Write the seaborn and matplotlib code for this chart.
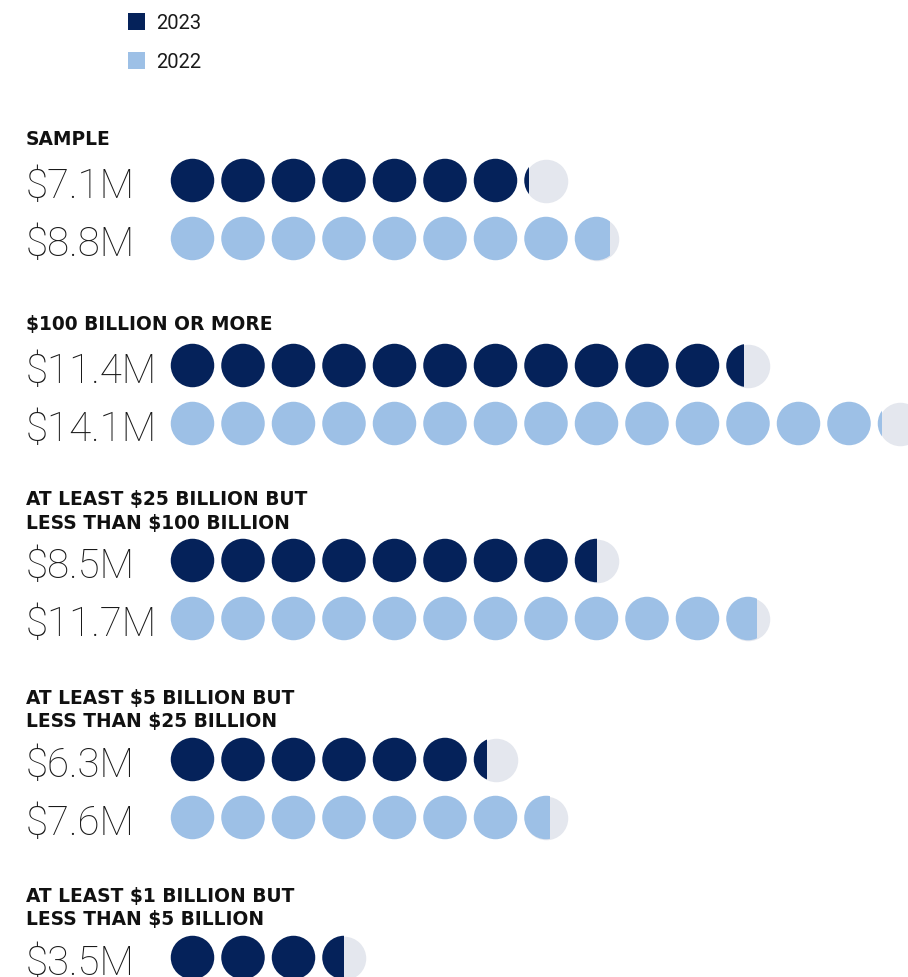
import numpy as np
import pandas as pd
import matplotlib
matplotlib.use("Agg")
import matplotlib.pyplot as plt
from matplotlib.patches import Circle, Rectangle
import seaborn as sns

# ---- data -------------------------------------------------------------
groups = [
    ["SAMPLE"],
    ["$100 BILLION OR MORE"],
    ["AT LEAST $25 BILLION BUT", "LESS THAN $100 BILLION"],
    ["AT LEAST $5 BILLION BUT", "LESS THAN $25 BILLION"],
    ["AT LEAST $1 BILLION BUT", "LESS THAN $5 BILLION"],
]
values_2023 = [7.1, 11.4, 8.5, 6.3, 3.5]
values_2022 = [8.8, 14.1, 11.7, 7.6, None]
years = ["2023", "2022"]

# ---- style ------------------------------------------------------------
DARK = "#05225A"
LIGHT = "#9DC0E6"
EMPTY = "#E4E7EE"
palette = {"2023": DARK, "2022": LIGHT}

sns.set_theme(style="white")
plt.rcParams["font.family"] = ["Roboto", "DejaVu Sans"]

W, H = 908, 978
fig = plt.figure(figsize=(W / 100, H / 100), dpi=100)
ax = fig.add_axes([0, 0, 1, 1])
ax.set_xlim(0, W)
ax.set_ylim(H, 0)
ax.axis("off")

# layout (pixel units)
X0 = 192.5          # centre of first dot
STEP = 50.5         # dot spacing
DIAM = 43.5         # dot diameter
R = DIAM / 2
LABEL_X = 26
HEADER_Y = [138, 323, 498, 697, 895]   # centre of first header line
LINE_GAP = 23.5
FIRST_ROW = {1: 43.5, 2: 40}           # header -> first dot row
ROW_GAP = 58

# ---- build a long table of dots ------------------------------------------
full_rows, slot_rows, partial_rows, labels = [], [], [], []
for g, (hdr, v23, v22) in enumerate(zip(groups, values_2023, values_2022)):
    hy = HEADER_Y[g]
    for k, line in enumerate(hdr):
        ax.text(LABEL_X, hy + k * LINE_GAP + 7, line, fontsize=13.4,
                fontweight="bold", color="#111111", va="baseline",
                ha="left", family=["DejaVu Sans"])
    row_y = hy + (len(hdr) - 1) * LINE_GAP + FIRST_ROW[len(hdr)]
    for r, (yr, val) in enumerate(zip(years, [v23, v22])):
        if val is None:
            continue
        y = row_y + r * ROW_GAP
        labels.append((y, f"${val:.1f}M"))
        n_full = int(np.floor(val + 1e-9))
        frac = round(val - n_full, 3)
        for i in range(n_full):
            full_rows.append({"x": X0 + i * STEP, "y": y, "year": yr})
        if frac > 0:
            slot_rows.append({"x": X0 + n_full * STEP, "y": y})
            partial_rows.append((X0 + n_full * STEP, y, frac, yr))

full_df = pd.DataFrame(full_rows)
slot_df = pd.DataFrame(slot_rows)

marker_s = (DIAM * 0.72) ** 2
sns.scatterplot(data=slot_df, x="x", y="y", color=EMPTY, s=marker_s,
                linewidth=0, legend=False, ax=ax, zorder=2)
sns.scatterplot(data=full_df, x="x", y="y", hue="year", palette=palette,
                s=marker_s, linewidth=0, legend=False, ax=ax, zorder=3)

# fractional dots: colour fills the dot from the left
for cx, cy, frac, yr in partial_rows:
    circ = Circle((cx, cy), R, facecolor=palette[yr], edgecolor="none",
                  zorder=4)
    ax.add_patch(circ)
    clip = Rectangle((cx - R - 1, cy - R - 1), frac * DIAM + 1, DIAM + 2,
                     transform=ax.transData)
    circ.set_clip_path(clip)

# big value labels
for y, txt in labels:
    ax.text(LABEL_X, y + 16.5, txt, fontsize=29, fontweight=100,
            color="#1a1a1a", va="baseline", ha="left",
            family=["Roboto", "DejaVu Sans"])

# legend
for k, yr in enumerate(years):
    ly = 22.5 + k * 39
    ax.add_patch(Rectangle((128, ly - 8.5), 17, 17, facecolor=palette[yr],
                           edgecolor="none"))
    ax.text(156, ly + 1, yr, fontsize=14.5, color="#1a1a1a", va="center",
            ha="left", family=["Roboto", "DejaVu Sans"], fontweight="normal")

fig.savefig("out.png", dpi=100)
